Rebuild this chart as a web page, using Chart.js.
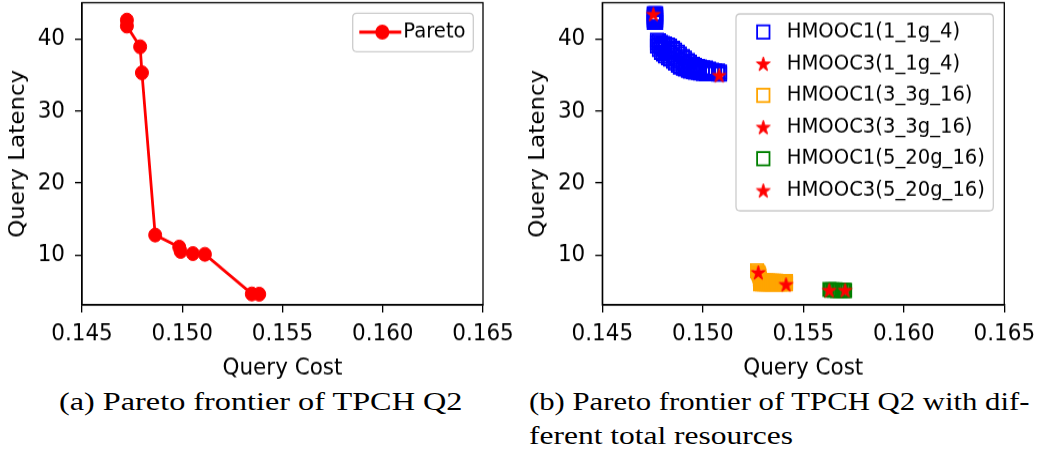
<!DOCTYPE html>
<html><head><meta charset="utf-8">
<script src="https://cdn.jsdelivr.net/npm/chart.js@4.4.1/dist/chart.umd.min.js"></script>
<style>
html,body{margin:0;padding:0;background:#fff}
body{width:1041px;height:457px;overflow:hidden;position:relative}
.wrap{position:absolute;top:0;transform-origin:0 0;transform:scaleY(1.07)}
.cap{position:absolute;font-family:"Liberation Serif",serif;font-size:24.4px;line-height:1;white-space:nowrap;transform-origin:0 0;color:#000}
</style></head><body>
<div class="wrap" style="left:0;width:520px;height:358px"><canvas id="c1" width="520" height="358"></canvas></div>
<div class="wrap" style="left:520px;width:521px;height:358px"><canvas id="c2" width="521" height="358"></canvas></div>
<div class="cap" id="capA">(a) Pareto frontier of TPCH Q2</div>
<div class="cap" id="capB1">(b) Pareto frontier of TPCH Q2 with dif-</div>
<div class="cap" id="capB2">ferent total resources</div>
<script>
// ---- data ----
const xTicks = [0.145, 0.150, 0.155, 0.160, 0.165];
const yTicks = [10, 20, 30, 40];

const paretoCost    = [0.14724, 0.14724, 0.14790, 0.14799, 0.14865, 0.14985, 0.14992, 0.15053, 0.15113, 0.15347, 0.15384];
const paretoLatency = [42.68, 41.85, 38.97, 35.35, 12.78, 11.10, 10.50, 10.20, 10.10, 4.58, 4.55];

const h1Cost_1_1g_4 = [
  0.14756,0.14762,0.14768, 0.14756,0.14762,0.14768, 0.14756,0.14762,0.14768,
  0.14756,0.14762,0.14768, 0.14756,0.14762,0.14768, 0.14756,0.14762,0.14768,
  0.14772,0.14772,0.14772, 0.14782,0.14782,0.14782, 0.14792,0.14792,0.14792,
  0.14802,0.14802,0.14802, 0.14812,0.14812,0.14812, 0.14827,0.14827,0.14827,
  0.14837,0.14837,0.14837, 0.14852,0.14852,0.14852, 0.14862,0.14862,0.14862,
  0.14876,0.14876,0.14876, 0.14886,0.14886,0.14886, 0.14901,0.14901,0.14901,
  0.14911,0.14911,0.14911, 0.14926,0.14926,0.14926, 0.14936,0.14936,0.14936,
  0.14951,0.14951,0.14951, 0.14961,0.14961,0.14961, 0.14976,0.14976,0.14976,
  0.14986,0.14986,0.14986, 0.15001,0.15001,0.15001, 0.15016,0.15016,0.15016,
  0.15031,0.15031, 0.15046,0.15046, 0.15061,0.15061, 0.15076,0.15076, 0.15086,0.15086];
const h1Lat_1_1g_4 = [
  43.57,43.57,43.57, 43.33,43.33,43.33, 43.09,43.09,43.09,
  42.85,42.85,42.85, 42.6,42.6,42.6, 42.35,42.35,42.35,
  39.9,39.5,39.07, 39.8,39.2,38.6, 39.6,38.9,38.2,
  39.45,38.7,37.95, 39.35,38.5,37.7, 39.2,38.3,37.45,
  39.07,38.1,37.26, 38.75,37.8,36.95, 38.5,37.5,36.7,
  38.2,37.2,36.4, 37.96,36.98,36.15, 37.6,36.75,36.0,
  37.4,36.56,35.87, 37.05,36.3,35.7, 36.84,36.15,35.59,
  36.55,36.0,35.5, 36.4,35.87,35.45, 36.25,35.8,35.38,
  36.15,35.73,35.31, 36.05,35.65,35.25, 36.0,35.6,35.2,
  35.85,35.45, 35.73,35.31, 35.65,35.25, 35.59,35.17, 35.45,35.17];
const h3Cost_1_1g_4 = [0.14754, 0.15081];
const h3Lat_1_1g_4  = [43.52, 35.03];

const h1Cost_3_3g_16 = [0.15270,0.15275,0.15278,0.15280,0.15282,0.15284,
  0.15285,0.15285,0.15285, 0.15295,0.15295,0.15295, 0.15305,0.15305,0.15305,
  0.15315,0.15315,0.15315, 0.15325,0.15325,0.15325, 0.15335,0.15335,0.15335,
  0.15345,0.15345,0.15345, 0.15355,0.15355,0.15355, 0.15365,0.15365,0.15365,
  0.15375,0.15375,0.15375, 0.15385,0.15385,0.15385, 0.15395,0.15395,0.15395,
  0.15405,0.15405,0.15405, 0.15414,0.15414,0.15414];
const h1Lat_3_3g_16  = [7.8,7.6,7.45,7.3,7.1,6.7,
  6.45,6.2,6.0, 6.4,6.2,6.0, 6.4,6.15,5.98,
  6.38,6.15,5.98, 6.38,6.15,5.98, 6.36,6.12,5.98,
  6.36,6.12,5.98, 6.35,6.12,5.98, 6.35,6.1,5.98,
  6.33,6.1,5.98, 6.33,6.1,5.98, 6.32,6.08,5.98,
  6.32,6.08,5.98, 6.3,6.08,5.98];
const h3Cost_3_3g_16 = [0.15276, 0.15414];
const h3Lat_3_3g_16  = [7.59, 5.92];

const h1Cost_5_20g_16 = [0.15630,0.15638,0.15645,0.15652,0.15660,0.15668,0.15675,0.15683,0.15690,0.15698,0.15705,0.15708];
const h1Lat_5_20g_16  = [5.2,5.12,5.18,5.1,5.15,5.08,5.12,5.06,5.1,5.06,5.08,5.05];
const h3Cost_5_20g_16 = [0.15629, 0.15708];
const h3Lat_5_20g_16  = [5.13, 5.13];

const legendLabels = ['HMOOC1(1_1g_4)','HMOOC3(1_1g_4)','HMOOC1(3_3g_16)','HMOOC3(3_3g_16)','HMOOC1(5_20g_16)','HMOOC3(5_20g_16)'];

// ---- helpers ----
const pts = (xs, ys) => xs.map((x, i) => ({x, y: ys[i]}));
const FONT = 'DejaVu Sans';

function makeStar(R){
  const s = Math.ceil(2*R + 4), c = document.createElement('canvas');
  c.width = s; c.height = s;
  const g = c.getContext('2d'), r = R*0.381966, cx = s/2, cy = s/2 + R*0.1;
  g.beginPath();
  for (let i = 0; i < 10; i++) {
    const a = -Math.PI/2 + i*Math.PI/5, rr = i % 2 ? r : R;
    const px = cx + rr*Math.cos(a), py = cy + rr*Math.sin(a);
    i ? g.lineTo(px, py) : g.moveTo(px, py);
  }
  g.closePath(); g.fillStyle = '#ff0000'; g.fill();
  g.strokeStyle = '#ff0000'; g.lineWidth = 1; g.lineJoin = 'round'; g.stroke();
  return c;
}
const star = makeStar(7.2);

function axes(yw){
  return {
    x: {
      type: 'linear', min: 0.145, max: 0.165,
      afterBuildTicks: s => { s.ticks = xTicks.map(v => ({value: v})); },
      afterFit: s => { s.height = 73; s.paddingLeft = 0; s.paddingRight = 0; },
      ticks: {callback: v => Number(v).toFixed(3), font: {family: FONT, size: 21.5}, color: '#000', padding: 8, maxRotation: 0, autoSkip: false},
      grid: {drawOnChartArea: false, drawTicks: true, tickLength: 7, color: '#000', lineWidth: 1.3},
      border: {display: true, color: '#000', width: 1.3},
      title: {display: true, text: 'Query Cost', font: {family: FONT, size: 21.5}, color: '#000', padding: {top: 0, bottom: 1}}
    },
    y: {
      type: 'linear', min: 3.05, max: 45.1,
      afterBuildTicks: s => { s.ticks = yTicks.map(v => ({value: v})); },
      afterFit: s => { s.width = yw; s.paddingTop = 0; s.paddingBottom = 0; },
      ticks: {callback: v => String(v), font: {family: FONT, size: 21.5}, color: '#000', padding: 10, autoSkip: false},
      grid: {drawOnChartArea: false, drawTicks: true, tickLength: 7, color: '#000', lineWidth: 1.3},
      border: {display: true, color: '#000', width: 1.3},
      title: {display: true, text: 'Query Latency', font: {family: FONT, size: 21.5}, color: '#000', padding: {top: 5.5, bottom: 0}}
    }
  };
}

function rrect(ctx, x, y, w, h, r){
  ctx.beginPath();
  ctx.moveTo(x + r, y); ctx.lineTo(x + w - r, y); ctx.quadraticCurveTo(x + w, y, x + w, y + r);
  ctx.lineTo(x + w, y + h - r); ctx.quadraticCurveTo(x + w, y + h, x + w - r, y + h);
  ctx.lineTo(x + r, y + h); ctx.quadraticCurveTo(x, y + h, x, y + h - r);
  ctx.lineTo(x, y + r); ctx.quadraticCurveTo(x, y, x + r, y); ctx.closePath();
}

const frame = {id: 'frame', afterDraw(chart){
  const {ctx, chartArea: a} = chart;
  ctx.save(); ctx.strokeStyle = '#000'; ctx.lineWidth = 1.3;
  ctx.strokeRect(a.left, a.top, a.right - a.left, a.bottom - a.top);
  ctx.restore();
  const L = chart.options.plugins.boxLegend;
  if (!L) return;
  ctx.save();
  rrect(ctx, L.x, L.y, L.w, L.h, 4);
  ctx.fillStyle = 'rgba(255,255,255,0.8)'; ctx.fill();
  ctx.strokeStyle = '#cccccc'; ctx.lineWidth = 1.3; ctx.stroke();
  ctx.font = '19.6px "' + FONT + '"'; ctx.textBaseline = 'middle'; ctx.fillStyle = '#000';
  L.items.forEach((it, i) => {
    const y = L.row0 + i*L.dy;
    if (it.kind === 'line') {
      ctx.strokeStyle = it.color; ctx.lineWidth = 2.8;
      ctx.beginPath(); ctx.moveTo(L.mx - 23, y); ctx.lineTo(L.mx + 19, y); ctx.stroke();
      ctx.beginPath(); ctx.arc(L.mx, y, 7, 0, Math.PI*2); ctx.fillStyle = it.color; ctx.fill();
    } else if (it.kind === 'square') {
      ctx.strokeStyle = it.color; ctx.lineWidth = 1.8;
      ctx.strokeRect(L.mx - 6.2, y - 6.2, 12.4, 12.4);
    } else {
      ctx.drawImage(star, L.mx - star.width/2, y - star.height/2);
    }
    ctx.fillStyle = '#000';
    ctx.fillText(it.text, L.tx, y);
  });
  ctx.restore();
}};

Chart.defaults.font.family = FONT;
Chart.defaults.color = '#000';

// ---- chart (a) ----
new Chart(document.getElementById('c1'), {
  type: 'scatter',
  data: {datasets: [{
    label: 'Pareto', data: pts(paretoCost, paretoLatency), showLine: true,
    borderColor: '#ff0000', borderWidth: 2.8, backgroundColor: '#ff0000',
    pointRadius: 6.5, pointBorderWidth: 1, pointBackgroundColor: '#ff0000', pointBorderColor: '#ff0000'
  }]},
  options: {
    responsive: false, animation: false, devicePixelRatio: 1, events: [],
    layout: {autoPadding: false, padding: {left: 0, right: 37, top: 2.5, bottom: 0}},
    scales: axes(82),
    plugins: {legend: {display: false}, tooltip: {enabled: false},
      boxLegend: {x: 352.7, y: 12.4, w: 120.6, h: 35.9, mx: 382.3, tx: 403.3, row0: 30, dy: 0,
        items: [{kind: 'line', color: '#ff0000', text: 'Pareto'}]}}
  },
  plugins: [frame]
});

// ---- chart (b) ----
function sq(label, xs, ys, color){
  return {label, data: pts(xs, ys), order: 2, pointStyle: 'rect', pointRadius: 8.7, pointBorderWidth: 1.8,
    pointBorderColor: color, pointBackgroundColor: 'rgba(0,0,0,0)', borderColor: color, backgroundColor: 'rgba(0,0,0,0)'};
}
function st(label, xs, ys){
  return {label, data: pts(xs, ys), order: 1, pointStyle: star, pointRadius: 7,
    pointBorderColor: '#ff0000', pointBackgroundColor: '#ff0000', borderColor: '#ff0000', backgroundColor: '#ff0000'};
}
new Chart(document.getElementById('c2'), {
  type: 'scatter',
  data: {datasets: [
    sq(legendLabels[0], h1Cost_1_1g_4, h1Lat_1_1g_4, '#0000ff'),
    st(legendLabels[1], h3Cost_1_1g_4, h3Lat_1_1g_4),
    sq(legendLabels[2], h1Cost_3_3g_16, h1Lat_3_3g_16, '#ffa500'),
    st(legendLabels[3], h3Cost_3_3g_16, h3Lat_3_3g_16),
    sq(legendLabels[4], h1Cost_5_20g_16, h1Lat_5_20g_16, '#008000'),
    st(legendLabels[5], h3Cost_5_20g_16, h3Lat_5_20g_16)
  ]},
  options: {
    responsive: false, animation: false, devicePixelRatio: 1, events: [],
    layout: {autoPadding: false, padding: {left: 0, right: 36.7, top: 2.5, bottom: 0}},
    scales: axes(82.3),
    plugins: {legend: {display: false}, tooltip: {enabled: false},
      boxLegend: {x: 216, y: 13, w: 257.3, h: 184, mx: 243.3, tx: 266.7, row0: 29.9, dy: 29.6,
        items: [
          {kind: 'square', color: '#0000ff', text: legendLabels[0]},
          {kind: 'star', text: legendLabels[1]},
          {kind: 'square', color: '#ffa500', text: legendLabels[2]},
          {kind: 'star', text: legendLabels[3]},
          {kind: 'square', color: '#008000', text: legendLabels[4]},
          {kind: 'star', text: legendLabels[5]}
        ]}}
  },
  plugins: [frame]
});

// ---- captions ----
function fitCap(id, left, baseline, width){
  const el = document.getElementById(id), fs = 24.4;
  el.style.left = left + 'px';
  el.style.top = (baseline - 0.8375*fs) + 'px';
  const g = document.createElement('canvas').getContext('2d');
  g.font = fs + 'px "Liberation Serif"';
  const w = g.measureText(el.textContent).width;
  el.style.transform = 'scaleX(' + (width / w) + ')';
}
fitCap('capA', 59, 410, 404);
fitCap('capB1', 529, 410, 501);
fitCap('capB2', 529, 444, 264);
</script>
</body></html>
